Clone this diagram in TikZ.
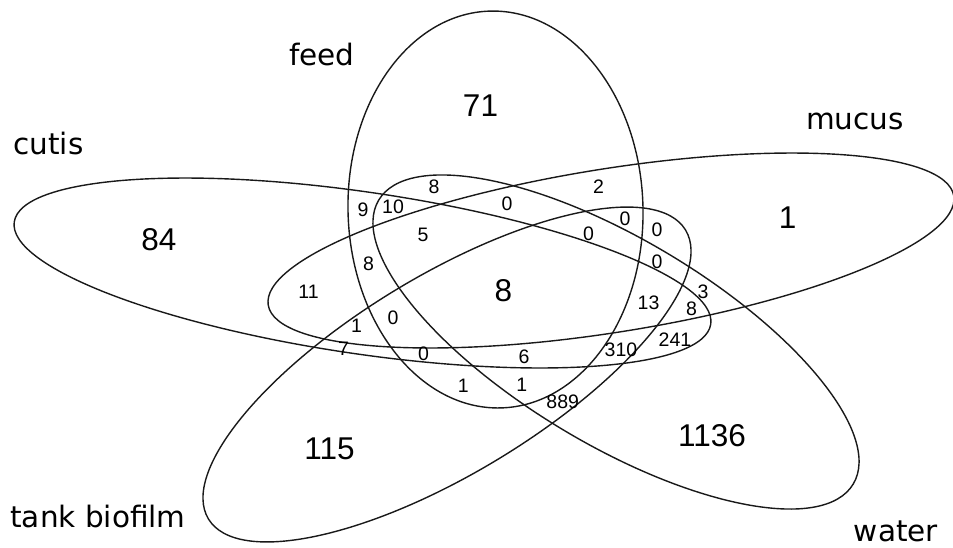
\documentclass[tikz,border=0pt]{standalone}
\usepackage{fontspec}
\usetikzlibrary{positioning}
\newfontfamily\setnamefont{DejaVu Sans}
\newfontfamily\countfont{Liberation Sans}

\begin{document}
\begin{tikzpicture}[x=0.5pt,y=-0.5pt,
  setline/.style={draw=black!90,line width=0.7pt},
  setname/.style={inner sep=0pt,font=\setnamefont\fontsize{14.75}{16}\selectfont},
  bigcount/.style={inner sep=0pt,font=\countfont\fontsize{15.75}{17}\selectfont},
  smallcount/.style={inner sep=0pt,font=\countfont\fontsize{9.75}{11}\selectfont}]
\useasboundingbox (0,0) rectangle (953,547);
% the five sets
\draw[setline,rotate around={-8.35:(362.5,273)}] (362.5,273) ellipse [x radius=352, y radius=80.9];
\draw[setline,rotate around={9.04:(611,250.5)}] (611,250.5) ellipse [x radius=347.1, y radius=81.8];
\draw[setline,rotate around={1.6:(495.5,209.5)}] (495.5,209.5) ellipse [x radius=147.5, y radius=198.5];
\draw[setline,rotate around={31.2:(447,374.5)}] (447,374.5) ellipse [x radius=278.9, y radius=98.9];
\draw[setline,rotate around={-30.9:(616,342)}] (616,342) ellipse [x radius=276.5, y radius=102.5];
% set names
\node[setname] (feed) at (322,54) {feed};
\node[setname] (cutis) at (48.5,143) {cutis};
\node[setname] (mucus) at (855,121) {mucus};
\node[setname] (tank) at (98,516) {tank biofilm};
\node[setname] (water) at (896,531) {water};
% counts of one set only, and of all five
\node[bigcount] (nfeed) at (480.5,106) {71};
\node[bigcount] (ncutis) at (159,240) {84};
\node[bigcount] (nmucus) at (787.5,217.5) {1};
\node[bigcount] (ntank) at (329.5,448.5) {115};
\node[bigcount] (nwater) at (712,436) {1136};
\node[bigcount] (nall) at (503.5,290.5) {8};
% counts of the overlaps
\foreach \x/\y/\t [count=\i] in {363/209.5/9, 393/206.7/10, 434/187/8, 507/203.5/0,
    598.5/187/2, 423/235/5, 588.5/233.5/0, 625/219/0, 657/230/0, 368.5/263.5/8,
    657/261.7/0, 308.5/292/11, 648.5/302.5/13, 703/291.7/3, 691.5/309/8,
    356.5/325.5/1, 393/317.5/0, 675/339.5/241, 621/349.3/310, 423.5/353.7/0,
    524/356.7/6, 463.3/386/1, 521.7/385/1, 562.7/401.7/889, 343.5/348.5/7}
  \node[smallcount] (s\i) at (\x,\y) {\t};
\end{tikzpicture}
\end{document}
